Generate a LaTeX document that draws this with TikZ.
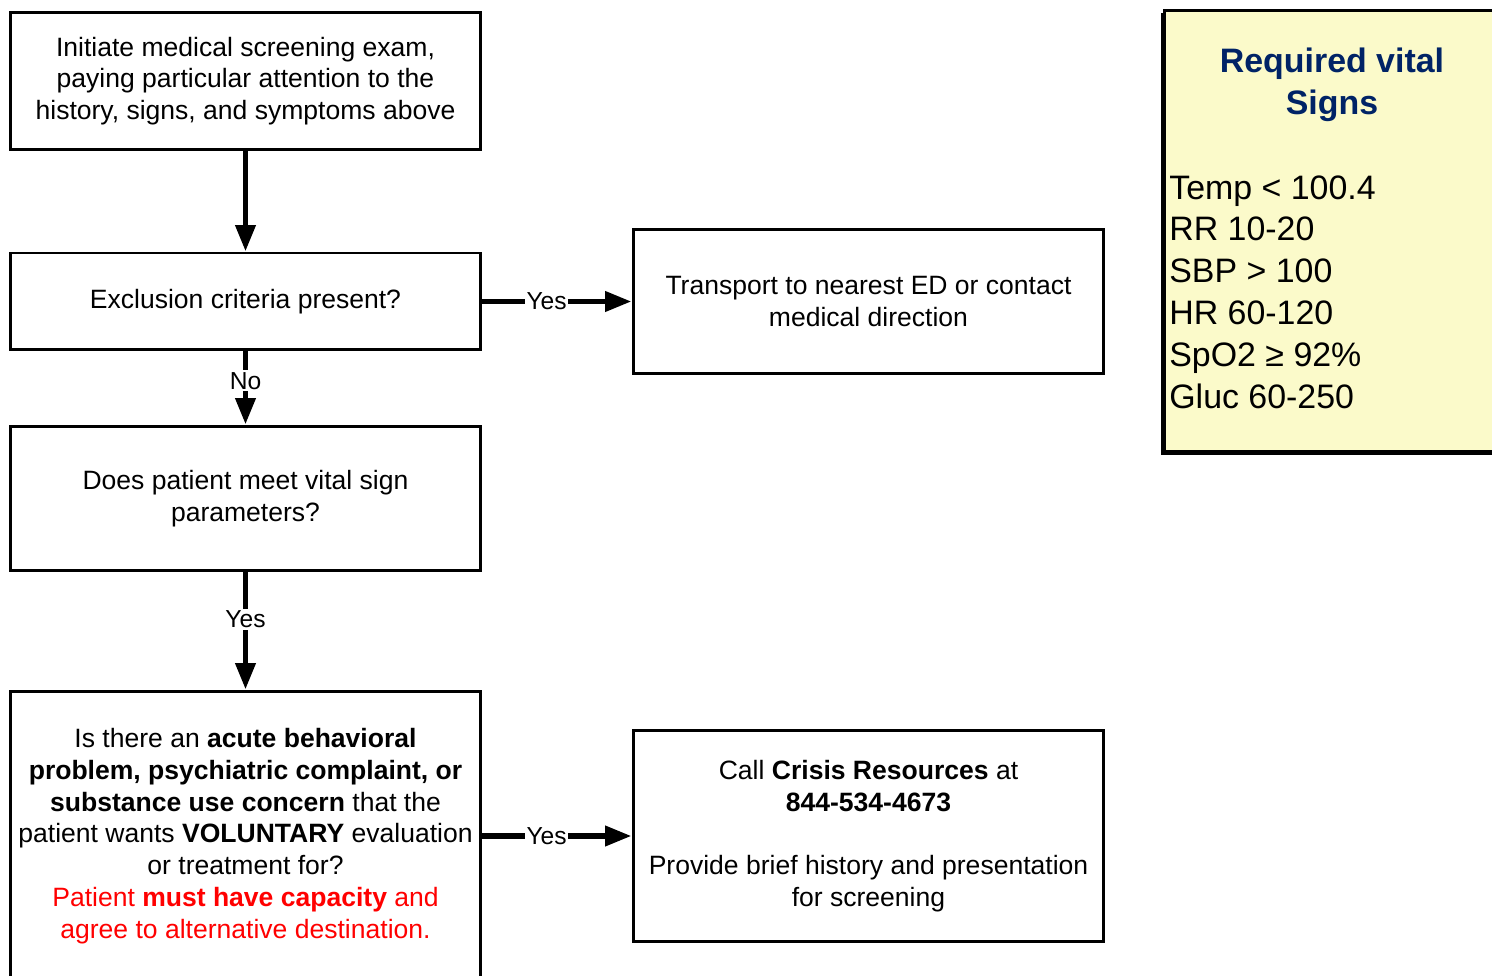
\documentclass[tikz,border=0pt]{standalone}
\usepackage{fontspec}
\setmainfont{Liberation Sans}
\usetikzlibrary{arrows.meta, shadows}
\definecolor{vitalyellow}{RGB}{251,250,202}
\definecolor{vitalnavy}{RGB}{0,35,102}

\begin{document}
\begin{tikzpicture}[x=0.02cm, y=-0.02cm,
  box/.style={draw, line width=1.7pt, minimum width=9.42cm, align=center, inner sep=2pt, font=\fontsize{15.1pt}{18.1pt}\selectfont},
  flow/.style={line width=3.2pt, -{Triangle[length=15pt, width=11pt]}},
  lbl/.style={fill=white, inner sep=1pt, pos=0.4, font=\fontsize{14pt}{16pt}\selectfont}]

\useasboundingbox (0,0) rectangle (1492,976);
%\draw[gray!40] (0,0) grid[step=50] (1492,976);

\node[box, minimum height=2.76cm] (exam) at (245.5,81) {Initiate medical screening exam,\\ paying particular attention to the\\ history, signs, and symptoms above};
\node[box, minimum height=1.94cm] (exclude) at (245.5,301.5) {Exclusion criteria present?};
\node[box, minimum height=2.9cm] (transport) at (868.5,301.5) {Transport to nearest ED or contact\\ medical direction};
\node[box, minimum height=2.9cm] (vitalq) at (245.5,498.5) {Does patient meet vital sign\\ parameters?};
\node[box, minimum height=5.8cm] (acute) at (245.5,836) {Is there an \textbf{acute behavioral}\\ \textbf{problem, psychiatric complaint, or}\\ \textbf{substance use concern} that the\\ patient wants \textbf{VOLUNTARY} evaluation\\ or treatment for?\\ \textcolor{red}{Patient \textbf{must have capacity} and}\\ \textcolor{red}{agree to alternative destination.}};
\node[box, minimum height=4.24cm] (crisis) at (868.5,836) {Call \textbf{Crisis Resources} at\\ \textbf{844-534-4673}\\[18.1pt] Provide brief history and presentation\\ for screening};

% vital signs panel
\node[draw, line width=1.7pt, fill=vitalyellow, minimum width=6.72cm, minimum height=8.84cm, drop shadow={shadow xshift=-1.7pt, shadow yshift=-1.7pt, fill=black, opacity=1}] (vitals) at (1332,231) {};
\node[text=vitalnavy, align=center, font=\fontsize{19.3pt}{23.8pt}\selectfont\bfseries] (vtitle) at (1332,85) {Required vital\\ Signs};
\node[anchor=north west, align=left, inner sep=0pt, font=\fontsize{19.3pt}{23.8pt}\selectfont] (vlist) at (1169,175) {Temp < 100.4\\ RR 10-20\\ SBP > 100\\ HR 60-120\\ SpO2 ≥ 92\%\\ Gluc 60-250};

\draw[flow] (exam) -- (exclude);
\draw[flow] (exclude) -- node[lbl, pos=0.43]{Yes} (transport);
\draw[flow] (exclude) -- node[lbl]{No} (vitalq);
\draw[flow] (vitalq) -- node[lbl]{Yes} (acute);
\draw[flow] (acute) -- node[lbl, pos=0.43]{Yes} (crisis);

\end{tikzpicture}
\end{document}
